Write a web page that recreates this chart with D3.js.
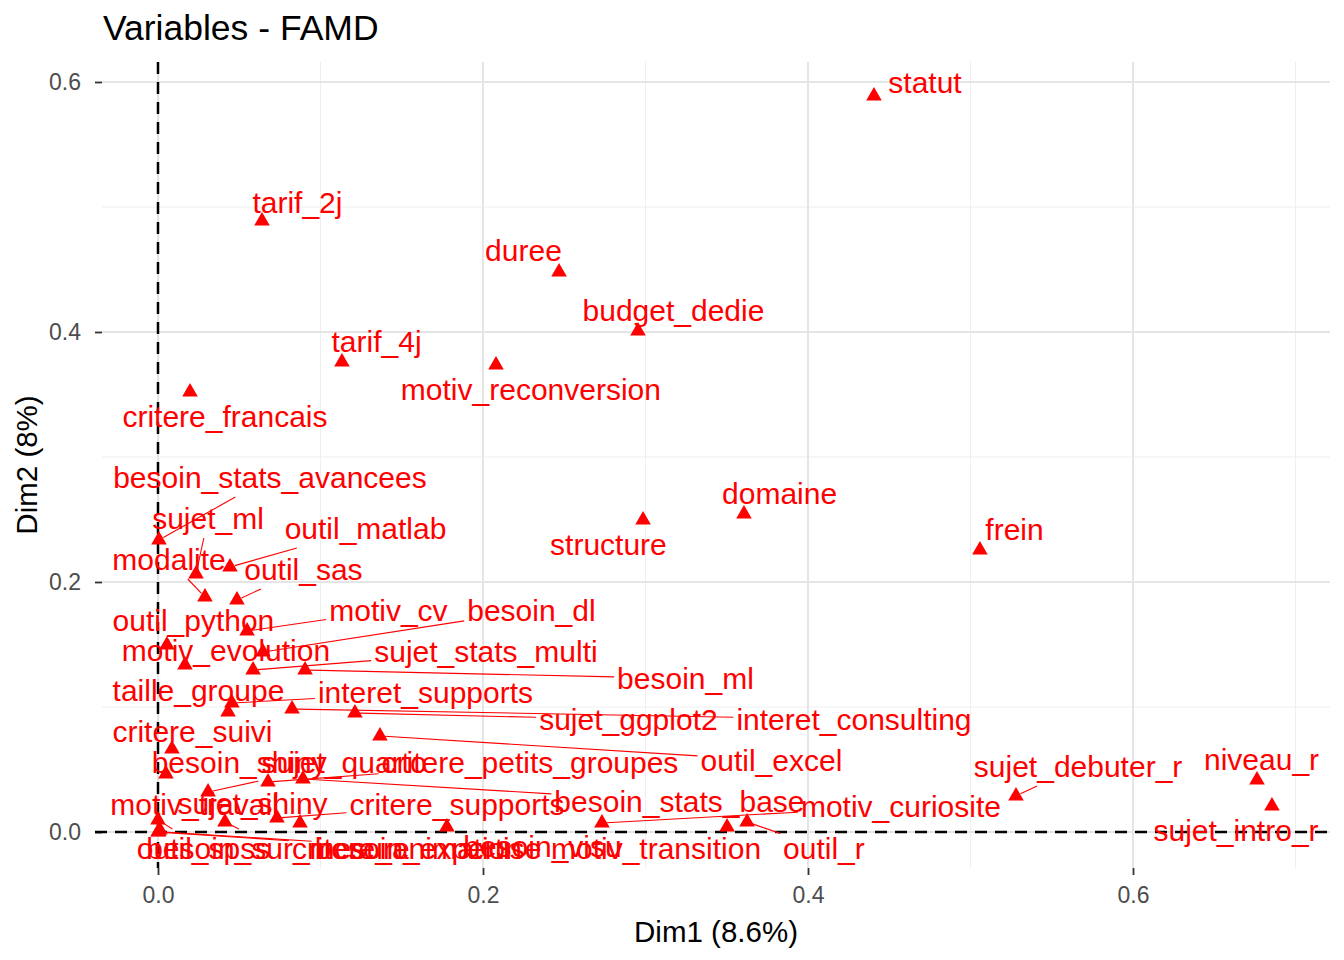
<!DOCTYPE html>
<html>
<head>
<meta charset="utf-8">
<script src="https://cdn.jsdelivr.net/npm/d3@7"></script>
<style>
  html, body { margin: 0; padding: 0; background: #ffffff; }
  svg { display: block; }
</style>
</head>
<body>
<script>
// ---------- data ----------
const variables = [
  "statut","tarif_2j","duree","budget_dedie","tarif_4j","motiv_reconversion","critere_francais",
  "domaine","structure","frein","besoin_stats_avancees","sujet_ml","outil_matlab","modalite",
  "outil_sas","motiv_cv","besoin_dl","outil_python","motiv_evolution","sujet_stats_multi",
  "besoin_ml","taille_groupe","interet_supports","interet_consulting","sujet_ggplot2",
  "critere_suivi","outil_excel","besoin_shiny","sujet_quarto","critere_petits_groupes",
  "sujet_debuter_r","niveau_r","besoin_stats_base","motiv_curiosite","motiv_travail",
  "sujet_shiny","critere_supports","sujet_intro_r","outil_r","motiv_transition","besoin_visu",
  "outil_spss","besoin_sur_mesure","critere_animation","besoin_expertise"
];
const dim1 = [
  0.4406,0.0640,0.2468,0.2954,0.1132,0.2080,0.0197,
  0.3606,0.2985,0.5058,0.0006,0.0234,0.0443,0.0289,
  0.0486,0.0548,0.0646,0.0055,0.0166,0.0585,
  0.0905,0.0431,0.0455,0.0825,0.1212,
  0.0086,0.1366,0.0049,0.0308,0.0677,
  0.5280,0.6763,0.0892,0.2732,0.0012,
  0.0874,0.0732,0.6855,0.3625,0.3502,0.1778,
  0.0000,0.0412,0.0000,0.0005
];
const dim2 = [
  0.5888,0.4888,0.4480,0.4008,0.3760,0.3736,0.3520,
  0.2544,0.2496,0.2256,0.2336,0.2064,0.2120,0.1880,
  0.1856,0.1608,0.1440,0.1496,0.1336,0.1296,
  0.1296,0.0960,0.1032,0.0984,0.0952,
  0.0664,0.0768,0.0464,0.0320,0.0400,
  0.0288,0.0416,0.0424,0.0072,0.0016,
  0.0072,0.0112,0.0208,0.0080,0.0040,0.0040,
  0.0096,0.0080,0.0000,0.0002
];
// repelled label positions (text centres, in Dim1/Dim2 units)
const labelDim1 = [
  0.4720,0.0858,0.2249,0.3172,0.1345,0.2295,0.0412,
  0.3825,0.2772,0.5271,0.0689,0.0308,0.1277,0.0068,
  0.0895,0.1418,0.2298,0.0218,0.0418,0.2018,
  0.3246,0.0249,0.1646,0.4283,0.2895,
  0.0212,0.3775,0.0500,0.1145,0.2289,
  0.5662,0.6791,0.3209,0.4572,0.0225,
  0.0582,0.1840,0.6634,0.4098,0.3065,0.2366,
  0.0280,0.0738,0.1532,0.1662
];
const labelDim2 = [
  0.5984,0.5024,0.4640,0.4160,0.3912,0.3528,0.3312,
  0.2696,0.2288,0.2408,0.2824,0.2496,0.2416,0.2168,
  0.2088,0.1760,0.1760,0.1680,0.1440,0.1432,
  0.1216,0.1120,0.1104,0.0888,0.0888,
  0.0792,0.0560,0.0544,0.0544,0.0544,
  0.0512,0.0568,0.0232,0.0192,0.0208,
  0.0216,0.0208,0.0000,-0.0144,-0.0144,-0.0128,
  -0.0144,-0.0144,-0.0144,-0.0144
];
const xMajorTicks = [0.0, 0.2, 0.4, 0.6];
const yMajorTicks = [0.0, 0.2, 0.4, 0.6];
const xMinorTicks = [0.1, 0.3, 0.5, 0.7];
const yMinorTicks = [0.1, 0.3, 0.5];
const titleText = "Variables - FAMD";
const xTitle = "Dim1 (8.6%)";
const yTitle = "Dim2 (8%)";

// ---------- layout ----------
const W = 1344, H = 960;
const panel = {left: 102, right: 1330, top: 62, bottom: 868};
const FONT = "'Liberation Sans', Arial, Helvetica, sans-serif";
const RED = "#FF0000";

const x = d3.scaleLinear().domain([-0.03446, 0.72123]).range([panel.left, panel.right]);
const y = d3.scaleLinear().domain([-0.0288, 0.6160]).range([panel.bottom, panel.top]);

const svg = d3.select("body").append("svg").attr("width", W).attr("height", H);
svg.append("rect").attr("width", W).attr("height", H).attr("fill", "#ffffff");

// grid
const grid = svg.append("g");
grid.selectAll(".vminor").data(xMinorTicks).join("line")
  .attr("x1", d => x(d)).attr("x2", d => x(d)).attr("y1", panel.top).attr("y2", panel.bottom)
  .attr("stroke", "#efefef").attr("stroke-width", 1);
grid.selectAll(".hminor").data(yMinorTicks).join("line")
  .attr("y1", d => y(d)).attr("y2", d => y(d)).attr("x1", panel.left).attr("x2", panel.right)
  .attr("stroke", "#efefef").attr("stroke-width", 1);
grid.selectAll(".vmajor").data(xMajorTicks).join("line")
  .attr("x1", d => x(d)).attr("x2", d => x(d)).attr("y1", panel.top).attr("y2", panel.bottom)
  .attr("stroke", "#e5e5e5").attr("stroke-width", 2);
grid.selectAll(".hmajor").data(yMajorTicks).join("line")
  .attr("y1", d => y(d)).attr("y2", d => y(d)).attr("x1", panel.left).attr("x2", panel.right)
  .attr("stroke", "#e5e5e5").attr("stroke-width", 2);

// axes (ticks + labels)
const xAxis = d3.axisBottom(x).tickValues(xMajorTicks).tickFormat(d3.format(".1f")).tickSize(7).tickPadding(12);
const yAxis = d3.axisLeft(y).tickValues(yMajorTicks).tickFormat(d3.format(".1f")).tickSize(7).tickPadding(14);
const gx = svg.append("g").attr("transform", `translate(0,${panel.bottom})`).call(xAxis);
const gy = svg.append("g").attr("transform", `translate(${panel.left},0)`).call(yAxis);
[gx, gy].forEach(g => {
  g.select(".domain").remove();
  g.selectAll(".tick line").attr("stroke", "#333333").attr("stroke-width", 1.8);
  g.selectAll(".tick text").attr("fill", "#4d4d4d").style("font-family", FONT).style("font-size", "23px");
});

// reference dashed lines at 0
svg.append("line")
  .attr("x1", panel.left - 7).attr("x2", panel.right).attr("y1", y(0)).attr("y2", y(0))
  .attr("stroke", "#000").attr("stroke-width", 2.5).attr("stroke-dasharray", "12,8");
svg.append("line")
  .attr("x1", x(0)).attr("x2", x(0)).attr("y1", panel.top).attr("y2", panel.bottom)
  .attr("stroke", "#000").attr("stroke-width", 2.5).attr("stroke-dasharray", "12,8");

// data rows
const rows = variables.map((v, i) => ({
  name: v, d1: dim1[i], d2: dim2[i], l1: labelDim1[i], l2: labelDim2[i]
}));

// points
svg.append("g").selectAll("path").data(rows).join("path")
  .attr("d", d3.symbol(d3.symbolTriangle, 105))
  .attr("transform", d => `translate(${x(d.d1)},${y(d.d2)})`)
  .attr("fill", RED);

// labels
const segG = svg.append("g");
const lab = svg.append("g").selectAll("text").data(rows).join("text")
  .attr("x", d => x(d.l1)).attr("y", d => y(d.l2)).attr("dy", "0.3em")
  .attr("text-anchor", "middle")
  .attr("fill", RED)
  .style("font-family", FONT).style("font-size", "30px")
  .text(d => d.name);

// repel-style segments: from label box edge (along centre->point line) to point
const pad = 3, pointPad = 5, minLen = 10;
lab.each(function(d) {
  const bb = this.getBBox();
  const x0 = bb.x - pad, x1 = bb.x + bb.width + pad, y0 = bb.y - pad, y1 = bb.y + bb.height + pad;
  const cx = bb.x + bb.width / 2, cy = bb.y + bb.height / 2;
  const px = x(d.d1), py = y(d.d2);
  if (px >= x0 && px <= x1 && py >= y0 && py <= y1) return;
  const dx = px - cx, dy = py - cy;
  let t = 1;
  if (dx !== 0) {
    const tx = ((dx > 0 ? x1 : x0) - cx) / dx;
    const yy = cy + tx * dy;
    if (tx > 0 && yy >= y0 && yy <= y1) t = Math.min(t, tx);
  }
  if (dy !== 0) {
    const ty = ((dy > 0 ? y1 : y0) - cy) / dy;
    const xx = cx + ty * dx;
    if (ty > 0 && xx >= x0 && xx <= x1) t = Math.min(t, ty);
  }
  const sx = cx + t * dx, sy = cy + t * dy;
  const len = Math.hypot(px - sx, py - sy);
  if (len - pointPad < minLen) return;
  const ex = px - (px - sx) / len * pointPad, ey = py - (py - sy) / len * pointPad;
  segG.append("line").attr("x1", sx).attr("y1", sy).attr("x2", ex).attr("y2", ey)
    .attr("stroke", RED).attr("stroke-width", 1.1);
});

// titles
svg.append("text").attr("x", 103).attr("y", 40)
  .attr("fill", "#000").style("font-family", FONT).style("font-size", "35.5px")
  .text(titleText);
svg.append("text").attr("x", (panel.left + panel.right) / 2).attr("y", 942)
  .attr("text-anchor", "middle").attr("fill", "#000")
  .style("font-family", FONT).style("font-size", "29.5px").text(xTitle);
svg.append("text").attr("transform", `translate(37,${(panel.top + panel.bottom) / 2}) rotate(-90)`)
  .attr("text-anchor", "middle").attr("fill", "#000")
  .style("font-family", FONT).style("font-size", "29.5px").text(yTitle);
</script>
</body>
</html>
